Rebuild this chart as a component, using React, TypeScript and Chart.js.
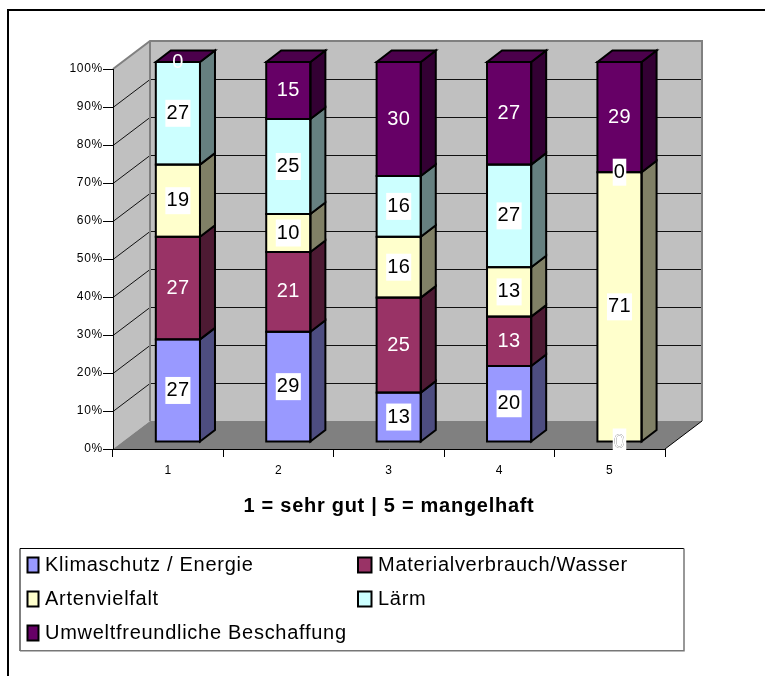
import React, { useEffect, useRef } from "react";
import { Chart, registerables } from "chart.js";

Chart.register(...registerables);

const categories = ["1", "2", "3", "4", "5"];
const seriesNames = [
  "Klimaschutz / Energie",
  "Materialverbrauch/Wasser",
  "Artenvielfalt",
  "Lärm",
  "Umweltfreundliche Beschaffung",
];
const klimaschutz = [27, 29, 13, 20, 0];
const material = [27, 21, 25, 13, 0];
const artenvielfalt = [19, 10, 16, 13, 71];
const laerm = [27, 25, 16, 27, 0];
const beschaffung = [0, 15, 30, 27, 29];
const seriesValues = [klimaschutz, material, artenvielfalt, laerm, beschaffung];
const frontColors = ["#9999FF", "#993366", "#FFFFCC", "#CCFFFF", "#660066"];
const sideColors = ["#4D4D80", "#4D1A33", "#808066", "#668080", "#330033"];
const topColor = "#4C004C";
const labelColors = ["#000", "#fff", "#000", "#000", "#fff"];
const labelBoxed = [true, false, true, true, false];
const FONT = '"Liberation Sans", Arial, sans-serif';

const wallDX = 37;
const wallDY = -28;
const barShiftX = 9.7;
const barShiftY = -7;
const barDX = 15;
const barDY = -11.5;

const wallsPlugin = {
  id: "walls",
  beforeDraw(chart: any) {
    const { ctx, chartArea: a, scales } = chart;
    ctx.save();
    ctx.fillStyle = "#fff";
    ctx.fillRect(0, 0, chart.width, chart.height);
    ctx.strokeStyle = "#000";
    ctx.lineWidth = 2;
    ctx.beginPath();
    ctx.moveTo(8, 676);
    ctx.lineTo(8, 10);
    ctx.lineTo(765, 10);
    ctx.stroke();
    const y0 = a.bottom;
    const y1 = a.top;
    ctx.fillStyle = "#C0C0C0";
    ctx.beginPath();
    ctx.moveTo(a.left, y0);
    ctx.lineTo(a.left, y1);
    ctx.lineTo(a.left + wallDX, y1 + wallDY);
    ctx.lineTo(a.right + wallDX, y1 + wallDY);
    ctx.lineTo(a.right + wallDX, y0 + wallDY);
    ctx.lineTo(a.left + wallDX, y0 + wallDY);
    ctx.closePath();
    ctx.fill();
    ctx.fillStyle = "#808080";
    ctx.beginPath();
    ctx.moveTo(a.left, y0);
    ctx.lineTo(a.left + wallDX, y0 + wallDY);
    ctx.lineTo(a.right + wallDX, y0 + wallDY);
    ctx.lineTo(a.right, y0);
    ctx.closePath();
    ctx.fill();
    ctx.strokeStyle = "#111";
    ctx.lineWidth = 1;
    scales.y.ticks.forEach((t: any) => {
      if (t.value <= 0 || t.value >= 100) return;
      const y = Math.round(scales.y.getPixelForValue(t.value)) + 0.5;
      ctx.beginPath();
      ctx.moveTo(a.left, y);
      ctx.lineTo(a.left + wallDX, y + wallDY);
      ctx.lineTo(a.right + wallDX, y + wallDY);
      ctx.stroke();
    });
    ctx.strokeStyle = "#808080";
    ctx.lineWidth = 2;
    ctx.beginPath();
    ctx.moveTo(a.left, y1);
    ctx.lineTo(a.left + wallDX, y1 + wallDY);
    ctx.lineTo(a.right + wallDX, y1 + wallDY);
    ctx.lineTo(a.right + wallDX, y0 + wallDY);
    ctx.moveTo(a.left + wallDX, y1 + wallDY);
    ctx.lineTo(a.left + wallDX, y0 + wallDY);
    ctx.stroke();
    ctx.strokeStyle = "#000";
    ctx.lineWidth = 1;
    ctx.beginPath();
    ctx.moveTo(a.right, y0);
    ctx.lineTo(a.right + wallDX, y0 + wallDY);
    ctx.stroke();
    ctx.restore();
    // applies to the axis texts, which follow this hook
    (ctx as any).letterSpacing = "0.72px";
  },
};

const shiftPlugin = {
  id: "barShift",
  beforeDatasetsDraw(chart: any) {
    (chart.ctx as any).letterSpacing = "0px";
    chart.ctx.save();
    chart.ctx.translate(barShiftX, barShiftY);
  },
  afterDatasetsDraw(chart: any) {
    const { ctx } = chart;
    ctx.lineJoin = "miter";
    ctx.lineWidth = 2;
    ctx.strokeStyle = "#000";
    const n = chart.data.datasets.length;
    for (let d = 0; d < n; d++) {
      chart.getDatasetMeta(d).data.forEach((el: any) => {
        const p = el.getProps(["x", "y", "base", "width"], true);
        const l = p.x - p.width / 2;
        const r = p.x + p.width / 2;
        if (Math.abs(p.base - p.y) > 0.01) {
          ctx.fillStyle = sideColors[d];
          ctx.beginPath();
          ctx.moveTo(r, p.base);
          ctx.lineTo(r + barDX, p.base + barDY);
          ctx.lineTo(r + barDX, p.y + barDY);
          ctx.lineTo(r, p.y);
          ctx.closePath();
          ctx.fill();
          ctx.stroke();
          ctx.strokeRect(l, p.y, p.width, p.base - p.y);
        }
        if (d === n - 1) {
          ctx.fillStyle = topColor;
          ctx.beginPath();
          ctx.moveTo(l, p.y);
          ctx.lineTo(l + barDX, p.y + barDY);
          ctx.lineTo(r + barDX, p.y + barDY);
          ctx.lineTo(r, p.y);
          ctx.closePath();
          ctx.fill();
          ctx.stroke();
        }
      });
    }
    ctx.font = `20px ${FONT}`;
    (ctx as any).letterSpacing = "0.4px";
    ctx.textAlign = "center";
    ctx.textBaseline = "middle";
    for (let d = 0; d < n; d++) {
      chart.getDatasetMeta(d).data.forEach((el: any, i: number) => {
        const p = el.getProps(["x", "y", "base"], true);
        const cy = (p.y + p.base) / 2;
        const text = String(seriesValues[d][i]);
        const w = ctx.measureText(text).width;
        if (labelBoxed[d]) {
          ctx.fillStyle = "#fff";
          ctx.fillRect(p.x - w / 2 - 1, cy - 13.5, w + 2, 27);
        }
        ctx.fillStyle = labelColors[d];
        ctx.fillText(text, p.x, cy);
      });
    }
    ctx.restore();
    (ctx as any).letterSpacing = "0px";
  },
};

const legendPlugin = {
  id: "boxLegend",
  afterDraw(chart: any) {
    const { ctx } = chart;
    ctx.save();
    ctx.fillStyle = "#fff";
    ctx.fillRect(20, 548, 664, 103);
    ctx.strokeStyle = "#000";
    ctx.lineWidth = 1;
    ctx.beginPath();
    ctx.moveTo(20, 651);
    ctx.lineTo(20, 548.5);
    ctx.lineTo(684, 548.5);
    ctx.stroke();
    ctx.strokeStyle = "#777";
    ctx.lineWidth = 1.5;
    ctx.beginPath();
    ctx.moveTo(684, 548.5);
    ctx.lineTo(684, 650.7);
    ctx.lineTo(20, 650.7);
    ctx.stroke();
    const swatchX = [27.5, 358];
    const swatchW = [11, 13.5];
    const textX = [45, 378];
    const rows = [565, 599, 633];
    ctx.font = `20px ${FONT}`;
    ctx.textBaseline = "middle";
    ctx.textAlign = "left";
    (ctx as any).letterSpacing = "0.72px";
    chart.data.datasets.forEach((ds: any, i: number) => {
      const c = i % 2;
      const y = rows[Math.floor(i / 2)];
      ctx.fillStyle = frontColors[i];
      ctx.strokeStyle = "#000";
      ctx.lineWidth = 2;
      ctx.fillRect(swatchX[c], y - 7.5, swatchW[c], 15);
      ctx.strokeRect(swatchX[c], y - 7.5, swatchW[c], 15);
      ctx.fillStyle = "#000";
      ctx.fillText(ds.label, textX[c], y);
    });
    ctx.restore();
  },
};

export default function App() {
  const ref = useRef<HTMLCanvasElement>(null);
  useEffect(() => {
    const chart = new Chart(ref.current as HTMLCanvasElement, {
      type: "bar",
      data: {
        labels: categories,
        datasets: seriesNames.map((label, i) => ({
          label,
          data: seriesValues[i],
          backgroundColor: frontColors[i],
          borderWidth: 0,
          barPercentage: 0.4,
          categoryPercentage: 1,
        })),
      },
      options: {
        responsive: false,
        animation: false,
        events: [],
        layout: {
          autoPadding: false,
          padding: { left: 0, top: 69, right: 100, bottom: 158 },
        },
        plugins: { legend: { display: false }, tooltip: { enabled: false }, title: { display: false } },
        scales: {
          x: {
            stacked: true,
            afterFit: (s: any) => {
              s.height = 69;
            },
            grid: { drawOnChartArea: false, tickLength: 8, color: "#000", lineWidth: 1 },
            border: { color: "#000", width: 1 },
            ticks: { color: "#000", padding: 6, maxRotation: 0, font: { family: FONT, size: 12 } },
            title: {
              display: true,
              text: "1 = sehr gut | 5 = mangelhaft",
              color: "#000",
              padding: 0,
              font: { family: FONT, size: 20, weight: "bold" },
            },
          },
          y: {
            stacked: true,
            min: 0,
            max: 100,
            afterFit: (s: any) => {
              s.width = 113;
            },
            grid: { drawOnChartArea: false, tickLength: 10, color: "#000", lineWidth: 1 },
            border: { color: "#000", width: 1 },
            ticks: {
              stepSize: 10,
              color: "#000",
              padding: 0,
              font: { family: FONT, size: 12 },
              callback: (v: any) => `${v}%`,
            },
          },
        },
      } as any,
      plugins: [wallsPlugin, shiftPlugin, legendPlugin],
    });
    return () => chart.destroy();
  }, []);
  return (
    <canvas
      ref={ref}
      width={765}
      height={676}
      style={{ position: "absolute", left: 0, top: 0, width: 765, height: 676, display: "block" }}
    />
  );
}
